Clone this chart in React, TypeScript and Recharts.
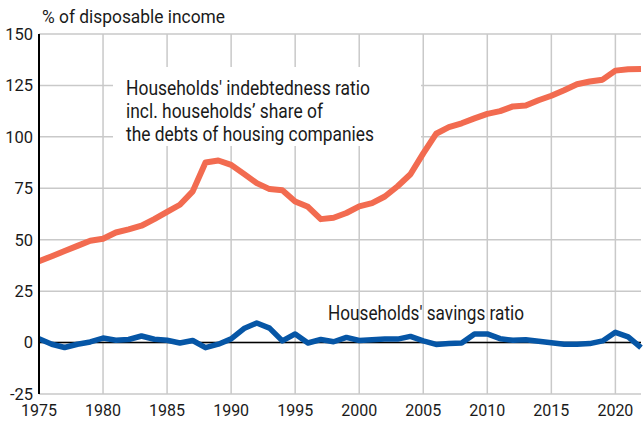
import React from "react";
import {
  LineChart,
  Line,
  XAxis,
  YAxis,
  CartesianGrid,
  ReferenceLine,
} from "recharts";

const years: number[] = [
  1975, 1976, 1977, 1978, 1979, 1980, 1981, 1982, 1983, 1984,
  1985, 1986, 1987, 1988, 1989, 1990, 1991, 1992, 1993, 1994,
  1995, 1996, 1997, 1998, 1999, 2000, 2001, 2002, 2003, 2004,
  2005, 2006, 2007, 2008, 2009, 2010, 2011, 2012, 2013, 2014,
  2015, 2016, 2017, 2018, 2019, 2020, 2021, 2022,
];

const indebtednessRatio: number[] = [
  39.5, 42, 44.5, 47, 49.5, 50.5, 53.5, 55, 56.8, 60,
  63.5, 67, 73.5, 87.5, 88.5, 86.4, 82, 77.5, 74.6, 74,
  68.6, 66, 60, 60.7, 63, 66.2, 67.8, 71, 76, 81.8,
  92, 101.5, 104.7, 106.6, 109, 111.2, 112.5, 114.8, 115.2, 117.8,
  120, 122.7, 125.6, 126.9, 127.8, 132.2, 132.9, 133,
];

const savingsRatio: number[] = [
  1.9, -0.8, -2.4, -0.8, 0.3, 2.2, 1.1, 1.5, 3.2, 1.6,
  1.1, -0.2, 1, -2.5, -0.8, 1.8, 6.8, 9.5, 7, 0.8,
  4.2, -0.2, 1.5, 0.4, 2.5, 1, 1.4, 1.7, 1.7, 3,
  0.8, -0.9, -0.5, -0.2, 4.2, 4.2, 1.9, 1.1, 1.4, 0.6,
  -0.1, -0.8, -0.8, -0.5, 0.8, 5, 2.8, -2.5,
];

const xTicks: number[] = [1975, 1980, 1985, 1990, 1995, 2000, 2005, 2010, 2015, 2020];
const yTicks: number[] = [-25, 0, 25, 50, 75, 100, 125, 150];

const unitLabel = "% of disposable income";
const debtLabel: string[] = [
  "Households' indebtedness ratio",
  "incl. households\u2019 share of",
  "the debts of housing companies",
];
const debtLabelWidths: number[] = [244, 197, 248];
const savingsLabel = "Households' savings ratio";

const data = years.map((y, i) => ({
  year: y,
  debt: indebtednessRatio[i],
  savings: savingsRatio[i],
}));

const FONT = "'Roboto', sans-serif";
const TEXT = "#1a1a1a";

export default function App() {
  return (
    <div style={{ position: "absolute", left: 0, top: 0, width: 643, height: 423, background: "#fff" }}>
      <LineChart
        width={643}
        height={423}
        data={data}
        margin={{ top: 34, right: 2, bottom: 0, left: 0 }}
        style={{ fontFamily: FONT }}
      >
        <CartesianGrid stroke="#c9c9c9" strokeWidth={1.5} verticalValues={xTicks} />
        <XAxis
          dataKey="year"
          type="number"
          domain={[1975, 2022]}
          ticks={xTicks}
          height={29}
          axisLine={false}
          tickLine={false}
          tickMargin={5}
          interval={0}
          tick={{ fill: TEXT, fontSize: 16, fontFamily: FONT }}
        />
        <YAxis
          type="number"
          domain={[-25, 150]}
          ticks={yTicks}
          width={39}
          interval={0}
          axisLine={{ stroke: "#000", strokeWidth: 2 }}
          tickLine={false}
          tickSize={4}
          tickMargin={2}
          tick={{ fill: TEXT, fontSize: 16.5, fontFamily: FONT }}
        />
        <ReferenceLine y={0} stroke="#000" strokeWidth={1.5} />
        <g>
          <rect x={113} y={67} width={308} height={79} fill="#fff" />
          {debtLabel.map((t, i) => (
            <text
              key={i}
              x={126}
              y={88 + i * 23}
              dominantBaseline="central"
              fontSize={19.5}
              fontFamily={FONT}
              fill={TEXT}
              textLength={debtLabelWidths[i]}
              lengthAdjust="spacingAndGlyphs"
            >
              {t}
            </text>
          ))}
          <text
            x={328}
            y={313}
            dominantBaseline="central"
            fontSize={19.5}
            fontFamily={FONT}
            fill={TEXT}
            textLength={196}
            lengthAdjust="spacingAndGlyphs"
          >
            {savingsLabel}
          </text>
          <text
            x={42}
            y={16}
            dominantBaseline="central"
            fontSize={19}
            fontFamily={FONT}
            fill={TEXT}
            textLength={183}
            lengthAdjust="spacingAndGlyphs"
          >
            {unitLabel}
          </text>
        </g>
        <Line
          dataKey="debt"
          stroke="#f26b50"
          strokeWidth={6}
          dot={false}
          isAnimationActive={false}
          strokeLinejoin="round"
        />
        <Line
          dataKey="savings"
          stroke="#0656a6"
          strokeWidth={5.5}
          dot={false}
          isAnimationActive={false}
          strokeLinejoin="round"
        />
      </LineChart>
    </div>
  );
}
